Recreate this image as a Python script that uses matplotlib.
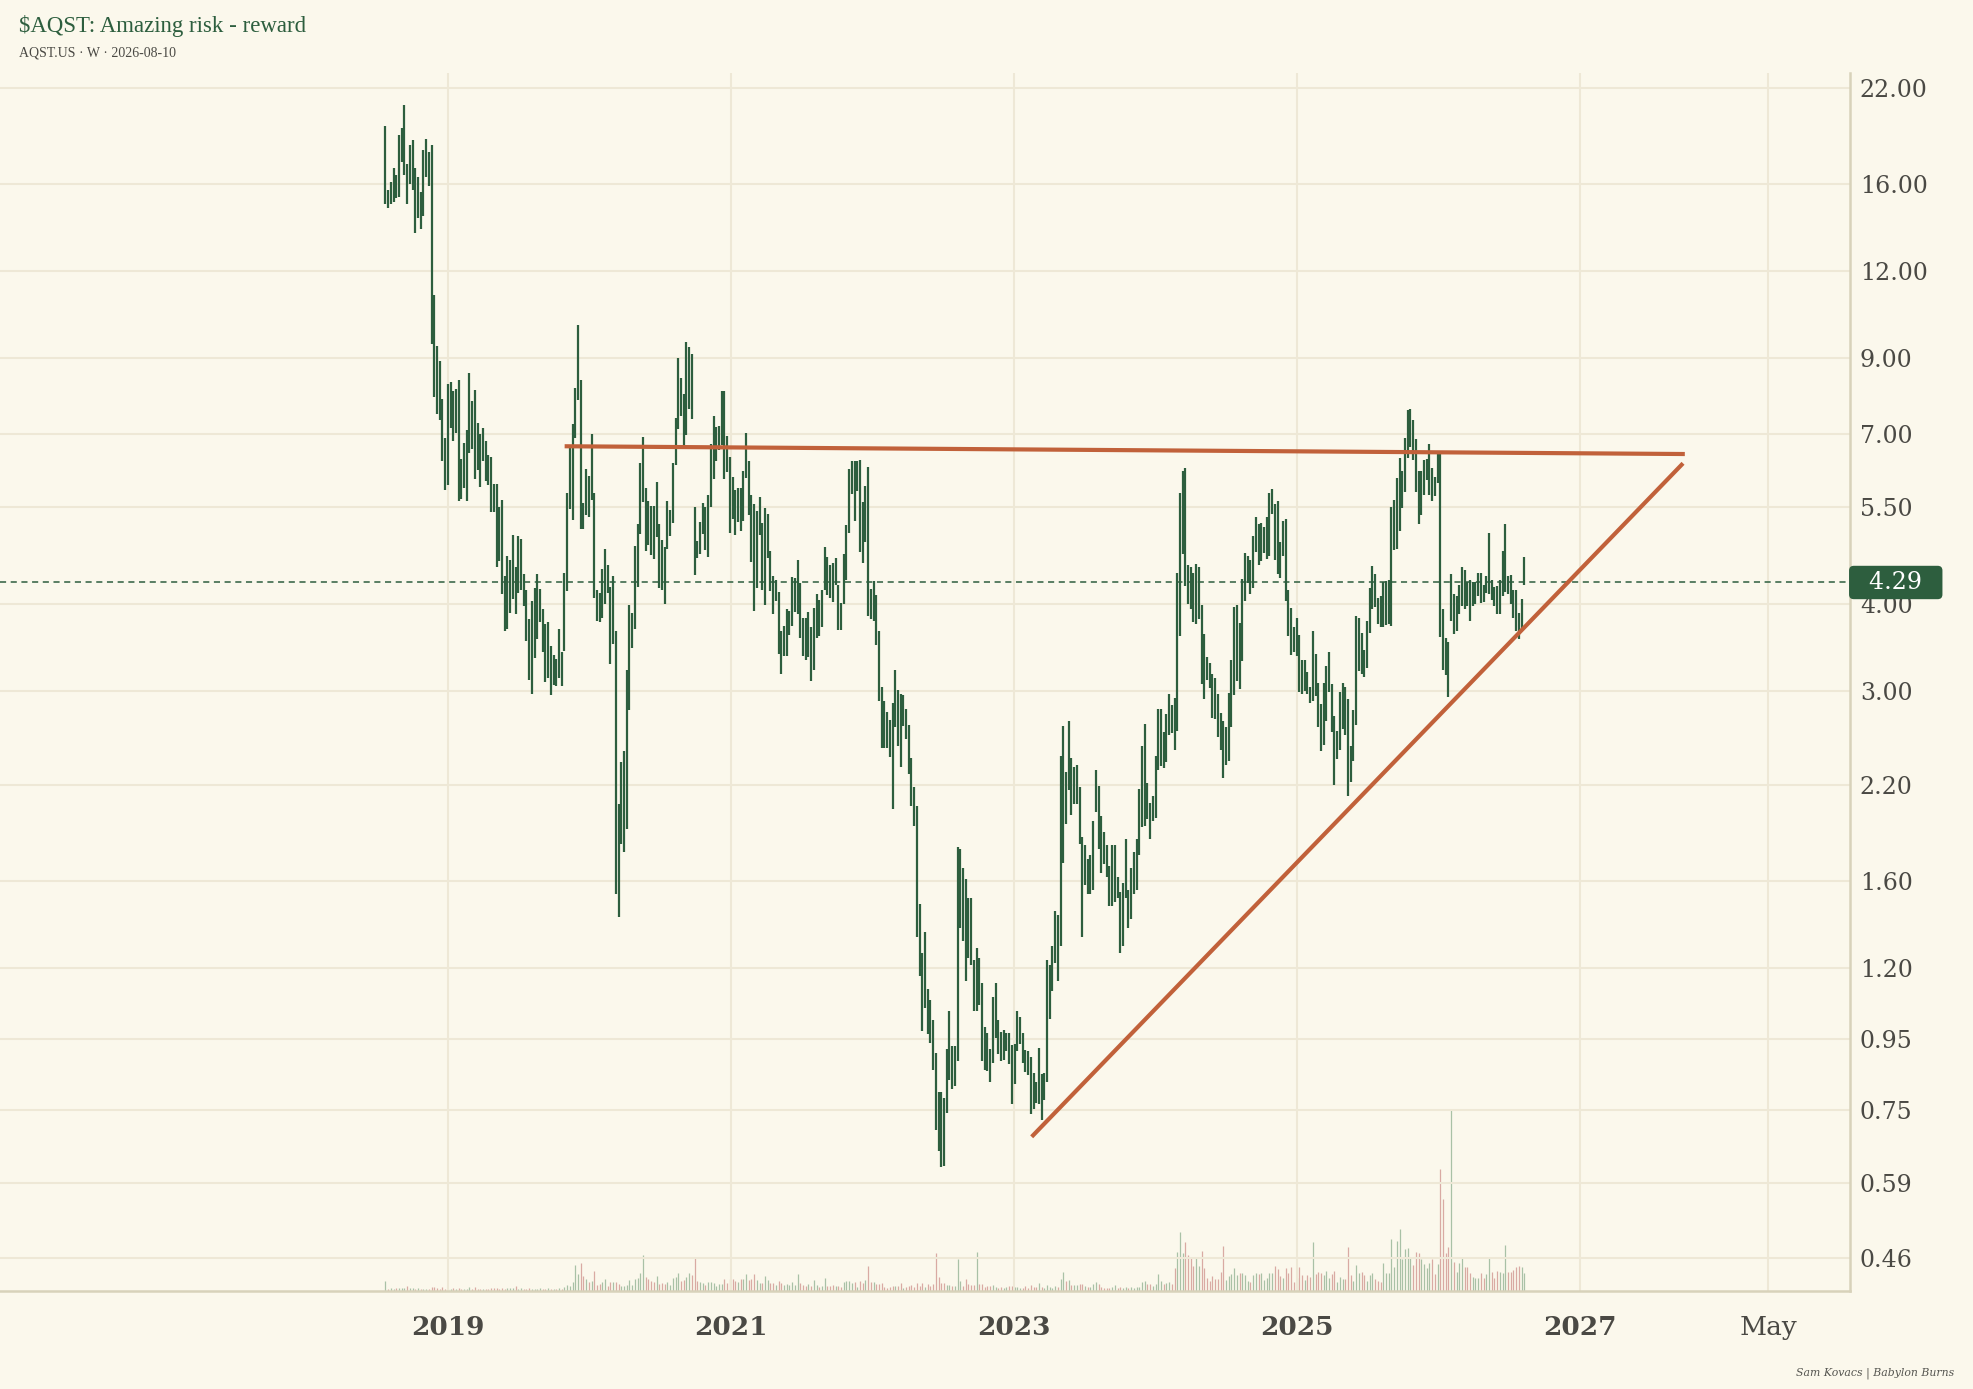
import numpy as np
import pandas as pd
import matplotlib
matplotlib.use("Agg")
import matplotlib.pyplot as plt
import matplotlib.transforms as mtransforms
from matplotlib.ticker import FixedLocator, NullLocator, FormatStrFormatter

# colours
BG = "#FBF8EC"
GRID = "#EEE8D6"
SPINE = "#D8D2BA"
BAR = "#2D5E3E"
TREND = "#C1613A"
TEXT = "#4A4944"
VOL_UP = "#A9C1A6"
VOL_DN = "#D9AAA3"

# weekly high / low, Jul 2018 -> Aug 2026
highs = [
    19.4, 15.7, 16.1, 16.9, 16.5, 18.8, 19.3, 20.8, 17.1, 18.2,
    18.5, 16.9, 16.4, 15.6, 17.9, 18.6, 17.8, 18.2, 11.1, 9.39,
    8.92, 7.87, 6.92, 8.27, 8.32, 8.08, 8.12, 8.37, 6.45, 6.80,
    7.10, 8.58, 7.82, 8.10, 7.27, 7.00, 7.16, 6.84, 6.53, 6.50,
    5.95, 5.95, 5.50, 5.64, 4.39, 4.68, 4.62, 5.02, 4.51, 5.00,
    4.96, 4.41, 4.18, 3.80, 4.03, 4.21, 4.41, 4.20, 3.93, 3.74,
    3.77, 3.48, 3.38, 3.33, 3.68, 3.41, 4.43, 5.77, 6.72, 7.25,
    8.17, 10.06, 8.37, 5.58, 6.24, 6.10, 7.01, 5.76, 4.18, 4.15,
    4.48, 4.80, 4.54, 4.22, 4.39, 3.66, 2.06, 2.37, 2.46, 3.21,
    3.98, 3.88, 4.84, 5.21, 6.36, 6.95, 5.87, 5.61, 5.52, 5.53,
    5.98, 5.21, 4.94, 4.83, 5.62, 5.46, 6.37, 7.39, 9.01, 8.43,
    8.01, 9.51, 9.35, 9.12, 5.50, 4.92, 5.24, 5.58, 5.50, 5.73,
    6.78, 7.44, 7.17, 7.20, 8.08, 8.09, 6.97, 6.50, 6.07, 5.82,
    5.86, 5.86, 6.20, 7.03, 6.42, 5.73, 5.57, 5.43, 5.70, 5.23,
    5.48, 5.38, 4.76, 4.39, 4.32, 4.16, 3.65, 3.72, 3.93, 3.91,
    4.37, 4.36, 4.62, 4.28, 3.82, 3.81, 3.89, 3.70, 3.94, 4.13,
    4.05, 4.18, 4.83, 4.66, 4.55, 4.58, 4.65, 4.26, 4.01, 4.71,
    5.19, 6.25, 6.42, 6.42, 6.42, 6.44, 5.60, 5.91, 6.29, 4.20,
    4.31, 4.11, 3.66, 3.04, 2.90, 2.80, 2.72, 2.88, 3.21, 3.01,
    2.97, 2.96, 2.82, 2.68, 2.40, 2.18, 2.05, 1.48, 1.26, 1.35,
    1.12, 1.08, 1.01, 0.907, 0.797, 0.797, 0.781, 0.918, 1.04, 0.928,
    0.928, 1.79, 1.78, 1.67, 1.61, 1.51, 1.51, 1.23, 1.28, 1.24,
    1.14, 0.988, 0.968, 0.918, 1.09, 1.14, 1.01, 0.971, 0.976, 0.968,
    0.968, 0.929, 0.932, 1.04, 1.02, 0.967, 0.916, 0.912, 0.895, 0.847,
    0.824, 0.921, 0.845, 0.848, 1.23, 1.21, 1.29, 1.45, 1.43, 2.42,
    2.67, 2.29, 2.71, 2.40, 2.33, 2.35, 2.18, 1.85, 1.80, 1.72,
    1.74, 1.95, 2.31, 2.19, 1.98, 1.88, 1.80, 1.68, 1.80, 1.80,
    1.62, 1.54, 1.59, 1.84, 1.55, 1.67, 1.76, 1.84, 2.17, 2.50,
    2.69, 2.21, 2.07, 2.12, 2.42, 2.82, 2.82, 2.62, 2.78, 2.97,
    2.86, 2.93, 4.42, 5.77, 6.21, 6.27, 4.55, 4.52, 4.42, 4.56,
    4.52, 3.98, 3.62, 3.35, 3.29, 3.17, 3.13, 2.97, 2.79, 2.71,
    2.66, 2.98, 3.32, 3.95, 3.98, 3.75, 4.34, 4.73, 4.69, 4.62,
    5.01, 5.33, 5.21, 5.23, 5.15, 5.33, 5.77, 5.85, 5.56, 5.61,
    4.91, 5.25, 5.30, 4.19, 3.94, 3.70, 3.81, 3.61, 3.32, 3.32,
    3.19, 3.04, 3.66, 3.39, 3.08, 2.87, 3.08, 3.26, 3.41, 3.07,
    2.76, 2.63, 2.99, 3.08, 3.04, 2.92, 2.50, 2.81, 3.84, 3.81,
    3.63, 3.43, 3.78, 4.21, 4.53, 4.41, 4.08, 4.10, 4.30, 4.31,
    4.32, 5.51, 5.63, 6.05, 6.47, 6.20, 6.91, 7.58, 7.60, 7.35,
    6.89, 6.21, 6.20, 6.44, 6.45, 6.77, 6.27, 6.09, 6.63, 6.57,
    3.93, 3.57, 3.52, 4.41, 4.13, 4.10, 4.26, 4.52, 4.47, 4.30,
    4.33, 4.30, 4.30, 4.43, 4.42, 4.25, 4.38, 5.05, 4.32, 4.22,
    4.24, 4.32, 4.76, 5.20, 4.38, 4.40, 4.18, 4.19, 3.88, 4.06,
    4.66,
]
lows = [
    15.0, 14.8, 15.0, 15.1, 15.3, 15.35, 17.2, 16.5, 15.0, 16.0,
    15.7, 13.6, 14.3, 13.8, 14.4, 16.4, 15.9, 9.44, 7.92, 7.48,
    7.34, 6.40, 5.83, 5.93, 7.15, 6.84, 7.03, 5.62, 5.65, 5.86,
    5.62, 6.58, 6.68, 6.03, 6.23, 5.89, 6.41, 6.00, 5.93, 5.42,
    5.42, 4.52, 4.60, 4.13, 3.66, 3.68, 3.88, 4.06, 3.87, 4.14,
    4.18, 3.97, 3.53, 3.11, 2.97, 3.34, 3.56, 3.77, 3.41, 3.09,
    3.13, 2.96, 3.06, 3.05, 3.13, 3.05, 3.42, 4.17, 5.47, 5.27,
    6.92, 7.85, 5.12, 5.12, 5.36, 5.32, 5.64, 4.08, 3.78, 3.77,
    3.82, 3.99, 4.14, 3.28, 3.50, 1.53, 1.42, 1.81, 1.76, 1.90,
    2.81, 3.46, 3.68, 4.23, 5.03, 5.60, 4.76, 4.86, 4.70, 4.64,
    4.98, 4.21, 4.19, 4.00, 4.80, 5.01, 5.23, 6.32, 7.13, 7.44,
    6.74, 6.98, 7.62, 7.36, 4.40, 4.65, 4.71, 5.03, 4.77, 4.67,
    5.51, 6.03, 6.42, 6.64, 6.75, 6.03, 6.19, 5.06, 5.29, 5.02,
    5.24, 5.08, 5.26, 6.05, 5.36, 4.59, 3.91, 4.21, 5.02, 4.19,
    3.98, 4.65, 4.17, 3.86, 4.04, 3.39, 3.17, 3.37, 3.36, 3.61,
    3.71, 3.89, 3.86, 3.57, 3.37, 3.32, 3.35, 3.10, 3.21, 3.57,
    3.59, 3.70, 4.19, 4.11, 4.08, 4.02, 4.25, 3.67, 3.67, 3.99,
    4.32, 5.06, 5.75, 5.25, 5.80, 4.75, 4.57, 4.90, 3.84, 3.80,
    3.78, 3.49, 2.90, 2.48, 2.48, 2.48, 2.41, 2.03, 2.66, 2.50,
    2.33, 2.67, 2.56, 2.28, 2.05, 1.92, 1.33, 1.17, 0.975, 1.05,
    0.965, 0.935, 0.855, 0.703, 0.655, 0.622, 0.623, 0.743, 0.828, 0.805,
    0.813, 0.882, 1.37, 1.31, 1.15, 1.24, 1.21, 1.04, 1.04, 1.06,
    0.883, 0.855, 0.853, 0.823, 0.877, 0.952, 0.902, 0.881, 0.884, 0.912,
    0.874, 0.765, 0.817, 0.912, 0.932, 0.877, 0.852, 0.841, 0.740, 0.753,
    0.769, 0.764, 0.726, 0.775, 0.823, 1.015, 1.11, 1.22, 1.15, 1.29,
    1.70, 1.93, 2.16, 1.99, 2.06, 2.06, 1.81, 1.33, 1.58, 1.53,
    1.53, 1.55, 2.01, 1.78, 1.64, 1.69, 1.62, 1.47, 1.47, 1.49,
    1.51, 1.26, 1.29, 1.51, 1.37, 1.41, 1.53, 1.55, 1.74, 1.91,
    1.92, 1.96, 1.84, 1.95, 1.97, 2.31, 2.34, 2.32, 2.37, 2.59,
    2.61, 2.47, 2.63, 3.60, 4.71, 4.24, 4.00, 3.93, 3.77, 3.74,
    3.80, 3.07, 2.92, 3.11, 3.03, 2.74, 2.73, 2.57, 2.47, 2.25,
    2.35, 2.38, 2.66, 2.96, 3.10, 3.02, 3.31, 4.03, 4.28, 4.13,
    4.21, 4.75, 4.54, 4.60, 4.73, 4.63, 4.68, 5.38, 4.62, 4.41,
    4.36, 4.68, 4.04, 3.60, 3.38, 3.41, 3.36, 2.99, 2.97, 3.00,
    2.97, 2.88, 2.90, 2.95, 2.66, 2.46, 2.51, 2.71, 2.99, 2.62,
    2.20, 2.39, 2.47, 2.64, 2.59, 2.12, 2.22, 2.38, 2.68, 3.20,
    3.17, 3.14, 3.23, 3.63, 3.93, 3.95, 3.74, 3.70, 3.70, 3.73,
    3.74, 3.72, 4.77, 4.80, 5.08, 5.48, 5.78, 6.47, 6.72, 6.43,
    5.79, 5.21, 5.36, 5.73, 6.02, 5.72, 5.61, 5.71, 5.96, 3.58,
    3.21, 3.16, 2.94, 3.78, 3.62, 3.65, 3.86, 3.97, 3.93, 3.97,
    3.78, 3.97, 3.99, 4.10, 4.01, 4.02, 4.14, 4.13, 4.05, 3.97,
    3.86, 3.86, 4.10, 4.16, 4.13, 3.99, 3.82, 3.65, 3.56, 3.68,
    4.26,
]
# weekly volume, thousands of shares
volume = [
    300, 50, 90, 60, 90, 90, 80, 90, 150, 90,
    90, 60, 90, 60, 60, 60, 60, 120, 120, 90,
    60, 120, 60, 60, 60, 90, 60, 90, 60, 60,
    60, 120, 60, 120, 60, 60, 60, 60, 60, 90,
    90, 90, 60, 90, 60, 90, 90, 90, 150, 60,
    90, 60, 60, 90, 60, 60, 60, 90, 60, 60,
    90, 60, 60, 60, 90, 60, 120, 180, 150, 270,
    780, 510, 840, 450, 360, 270, 300, 600, 180, 210,
    270, 360, 150, 270, 270, 270, 210, 150, 150, 180,
    330, 180, 360, 390, 540, 1080, 420, 360, 300, 270,
    450, 210, 240, 210, 270, 180, 390, 420, 540, 300,
    330, 420, 540, 480, 1020, 300, 270, 240, 180, 270,
    270, 240, 150, 210, 210, 360, 240, 360, 360, 300,
    270, 360, 360, 510, 330, 360, 510, 330, 240, 240,
    450, 330, 240, 240, 180, 300, 240, 180, 210, 180,
    270, 180, 510, 240, 180, 150, 210, 150, 330, 180,
    120, 150, 390, 150, 150, 180, 150, 150, 120, 270,
    300, 300, 240, 270, 120, 300, 240, 330, 750, 270,
    270, 210, 210, 240, 120, 90, 120, 150, 150, 150,
    240, 90, 120, 150, 180, 120, 240, 150, 240, 120,
    210, 150, 210, 1140, 420, 240, 240, 180, 180, 150,
    150, 960, 300, 150, 360, 210, 180, 180, 1170, 210,
    210, 120, 150, 150, 180, 120, 90, 120, 90, 120,
    150, 150, 120, 120, 90, 90, 150, 90, 180, 120,
    120, 240, 120, 90, 180, 120, 90, 150, 120, 360,
    570, 300, 330, 180, 180, 180, 210, 210, 150, 120,
    120, 210, 270, 210, 120, 90, 90, 90, 120, 180,
    90, 120, 90, 120, 90, 120, 90, 120, 120, 270,
    300, 210, 210, 150, 210, 510, 300, 210, 240, 270,
    210, 690, 1170, 1770, 1140, 1470, 1080, 1020, 750, 990,
    750, 1200, 690, 390, 300, 450, 360, 360, 570, 1350,
    330, 450, 510, 690, 480, 540, 540, 480, 300, 270,
    480, 540, 510, 540, 330, 390, 540, 540, 750, 660,
    450, 390, 690, 540, 720, 270, 390, 720, 480, 330,
    480, 420, 1470, 510, 570, 540, 480, 600, 390, 510,
    600, 270, 420, 360, 360, 1320, 480, 300, 780, 540,
    570, 480, 300, 480, 540, 360, 300, 270, 840, 540,
    540, 1560, 720, 1500, 1860, 960, 1260, 1290, 990, 780,
    1170, 1140, 960, 810, 690, 840, 960, 510, 810, 3660,
    2760, 1140, 1320, 5460, 870, 570, 840, 1020, 720, 720,
    540, 420, 390, 390, 540, 390, 510, 1020, 570, 390,
    600, 570, 540, 1380, 570, 570, 630, 720, 750, 720,
    540,
]
last_close = 4.29
dates = pd.date_range(end="2026-08-10", periods=len(highs), freq="W-MON")

# hand-drawn trend lines (date, price)
resist_dates = pd.to_datetime(["2019-11-03", "2027-09-23"])
resist_prices = [6.73, 6.56]
support_dates = pd.to_datetime(["2023-02-19", "2027-09-20"])
support_prices = [0.69, 6.33]

price_ticks = [0.46, 0.59, 0.75, 0.95, 1.20, 1.60, 2.20, 3.00, 4.00,
               5.50, 7.00, 9.00, 12.00, 16.00, 22.00]
date_ticks = pd.to_datetime(["2019-01-01", "2021-01-01", "2023-01-01",
                             "2025-01-01", "2027-01-01", "2028-05-01"])
date_labels = ["2019", "2021", "2023", "2025", "2027", "May"]

fig = plt.figure(figsize=(19.73, 13.89), dpi=100, facecolor=BG)
ax = fig.add_axes([0.0, 0.0706, 0.9377, 0.8769])
vax = ax.twinx()
ax.set_zorder(vax.get_zorder() + 1)
ax.patch.set_visible(False)
vax.patch.set_facecolor(BG)
vax.patch.set_visible(True)

# volume underneath
vol = np.array(volume, dtype=float)
mid = (np.array(highs) + np.array(lows)) / 2
up = np.r_[True, mid[1:] >= mid[:-1]]
vax.vlines(dates[up], 0, vol[up], color=VOL_UP, lw=0.9)
vax.vlines(dates[~up], 0, vol[~up], color=VOL_DN, lw=0.9)
vax.set_ylim(0, vol.max() * 6.69)
vax.set_yticks([])
for s in vax.spines.values():
    s.set_visible(False)

# price bars
ax.vlines(dates, lows, highs, color=BAR, lw=1.6, zorder=3)
ax.axhline(last_close, color=BAR, lw=1.1, ls=(0, (4, 3)), zorder=2)
ax.plot(resist_dates, resist_prices, color=TREND, lw=3, zorder=4)
ax.plot(support_dates, support_prices, color=TREND, lw=3, zorder=4)

ax.set_yscale("log")
ax.set_ylim(0.4125, 23.12)
ax.set_xlim(pd.Timestamp("2015-11-01"), pd.Timestamp("2028-11-28"))
ax.yaxis.tick_right()
ax.yaxis.set_major_locator(FixedLocator(price_ticks))
ax.yaxis.set_major_formatter(FormatStrFormatter("%.2f"))
ax.yaxis.set_minor_locator(NullLocator())
ax.set_xticks(date_ticks)
ax.set_xticklabels(date_labels)
ax.xaxis.set_minor_locator(NullLocator())

ax.tick_params(axis="y", length=0, pad=7, labelsize=17, labelcolor=TEXT)
ax.tick_params(axis="x", length=0, pad=17, labelsize=19, labelcolor=TEXT)
for lab in ax.get_yticklabels():
    lab.set_family("DejaVu Serif")
for i, lab in enumerate(ax.get_xticklabels()):
    lab.set_family("DejaVu Serif")
    lab.set_fontweight("bold" if i < 5 else "normal")

ax.grid(True, color=GRID, lw=1.5)
ax.set_axisbelow(True)
for side in ["left", "top"]:
    ax.spines[side].set_visible(False)
for side in ["right", "bottom"]:
    ax.spines[side].set_color(SPINE)
    ax.spines[side].set_linewidth(1.8)

# last price tag on the axis
tag_tf = mtransforms.blended_transform_factory(ax.transAxes, ax.transData)
ax.annotate(f"  {last_close:.2f}  ", xy=(1.0, last_close), xycoords=tag_tf,
            xytext=(3, 0), textcoords="offset points", ha="left", va="center",
            fontsize=17, family="DejaVu Serif", color="white", zorder=10,
            annotation_clip=False,
            bbox=dict(boxstyle="round,pad=0.22,rounding_size=0.2", fc=BAR, ec="none"))

fig.text(0.0096, 0.981, "$AQST: Amazing risk - reward", fontsize=16.5,
         family="Liberation Serif", color=BAR, va="center", ha="left")
fig.text(0.0096, 0.9620, "AQST.US · W · 2026-08-10", fontsize=10,
         family="Liberation Serif", color="#4A4944", va="center", ha="left")
fig.text(0.9905, 0.0115, "Sam Kovacs | Babylon Burns", fontsize=7.8,
         family="DejaVu Serif", style="italic", color="#555550",
         va="center", ha="right")

fig.savefig("out.png", dpi=100, facecolor=BG)
